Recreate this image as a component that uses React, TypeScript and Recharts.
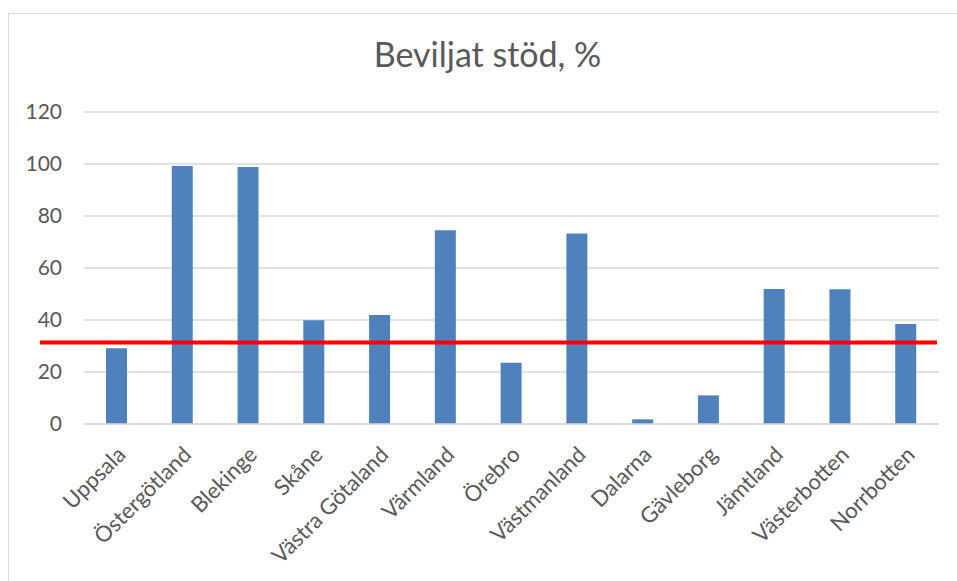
import React from 'react';
import { BarChart, Bar, XAxis, YAxis, CartesianGrid, ReferenceLine } from 'recharts';

const regions = [
  'Uppsala',
  'Östergötland',
  'Blekinge',
  'Skåne',
  'Västra Götaland',
  'Värmland',
  'Örebro',
  'Västmanland',
  'Dalarna',
  'Gävleborg',
  'Jämtland',
  'Västerbotten',
  'Norrbotten',
];

const granted = [29.1, 99.2, 98.8, 39.9, 41.9, 74.5, 23.6, 73.3, 1.8, 11, 51.9, 51.8, 38.5];

const average = 31.3;

const yTicks = [0, 20, 40, 60, 80, 100, 120];

const FONT = 'Lato, "Open Sans", sans-serif';
const TEXT = '#595959';
const GRID = '#d9d9d9';

const chartData = regions.map((region, i) => ({ region, value: granted[i] }));

function RegionTick({ x, y, payload }: any) {
  return (
    <g transform={`translate(${x + 10},${y + 24}) rotate(-45)`}>
      <text x={0} y={0} textAnchor="end" fill={TEXT} fontSize={22} fontFamily={FONT}>
        {payload.value}
      </text>
    </g>
  );
}

function AverageLine(props: any) {
  const { x1, x2, y1 } = props;
  return <line x1={x1 - 44} x2={x2 - 2} y1={y1} y2={y1} stroke="#ff0000" strokeWidth={4} />;
}

export default function App() {
  return (
    <div style={{ position: 'fixed', top: 0, left: 0, width: 957, height: 581, background: '#fff', overflow: 'hidden' }}>
      <div
        style={{
          position: 'absolute',
          top: 13,
          left: 8,
          width: 980,
          height: 600,
          borderTop: `1px solid ${GRID}`,
          borderLeft: `1px solid ${GRID}`,
        }}
      />
      <div
        style={{
          position: 'absolute',
          top: 33,
          left: 0,
          width: 957,
          textAlign: 'center',
          fontFamily: FONT,
          fontSize: 34,
          color: TEXT,
          paddingLeft: 18,
          boxSizing: 'border-box',
        }}
      >
        Beviljat stöd, %
      </div>
      <div style={{ position: 'absolute', top: 0, left: 0 }}>
        <BarChart
          width={957}
          height={581}
          data={chartData}
          margin={{ top: 112, right: 18, bottom: 127, left: 24 }}
        >
          <CartesianGrid vertical={false} stroke={GRID} strokeWidth={1.5} />
          <XAxis
            dataKey="region"
            interval={0}
            tickLine={false}
            axisLine={{ stroke: GRID, strokeWidth: 1.5 }}
            tick={<RegionTick />}
          />
          <YAxis
            width={60}
            domain={[0, 120]}
            ticks={yTicks}
            axisLine={false}
            tickLine={false}
            tickMargin={16}
            tick={{ fill: TEXT, fontSize: 21, fontFamily: FONT }}
          />
          <Bar dataKey="value" fill="#4f81bd" barSize={21} isAnimationActive={false} />
          <ReferenceLine y={average} ifOverflow="visible" shape={<AverageLine />} />
        </BarChart>
      </div>
    </div>
  );
}
